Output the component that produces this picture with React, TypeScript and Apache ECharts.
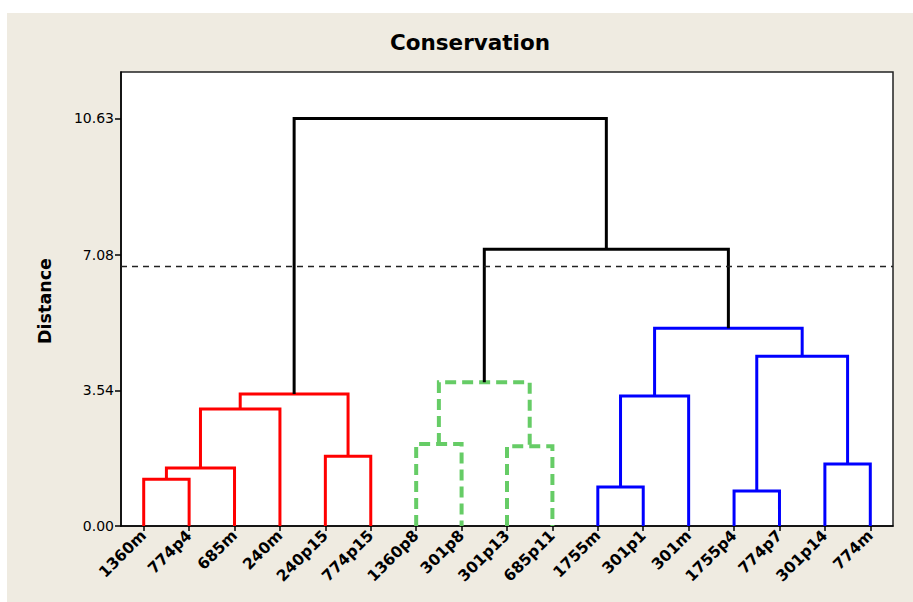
import React, { useEffect, useRef } from "react";
import * as echarts from "echarts";

const leaves = [
  "1360m", "774p4", "685m", "240m", "240p15", "774p15",
  "1360p8", "301p8", "301p13", "685p11",
  "1755m", "301p1", "301m", "1755p4", "774p7", "301p14", "774m",
];

// merges: node ids 0..16 are leaves, merge i gets id 17+i
const mergeLeft = [0, 17, 18, 4, 19, 6, 8, 22, 10, 25, 13, 15, 27, 26, 24, 21];
const mergeRight = [1, 2, 3, 5, 20, 7, 9, 23, 11, 12, 14, 16, 28, 29, 30, 31];
const mergeHeight = [1.22, 1.51, 3.05, 1.82, 3.44, 2.14, 2.08, 3.75, 1.02, 3.39, 0.91, 1.62, 4.43, 5.16, 7.22, 10.63];
const mergeGroup = ["red", "red", "red", "red", "red", "green", "green", "green", "blue", "blue", "blue", "blue", "blue", "blue", "black", "black"];

const yTicks = [0, 3.54, 7.08, 10.63];
const cutHeight = 6.77;
const yMax = 11.84;

const groupColor: Record<string, string> = {
  red: "#ff0000",
  green: "#66cc66",
  blue: "#0000ff",
  black: "#000000",
};

export default function App() {
  const ref = useRef<HTMLDivElement>(null);
  useEffect(() => {
    if (!ref.current) return;
    const chart = echarts.init(ref.current, null, { renderer: "svg" });
    const n = leaves.length;
    const nodeX: number[] = leaves.map((_, i) => i);
    const nodeY: number[] = leaves.map(() => 0);
    const series: any[] = [];
    mergeLeft.forEach((l, i) => {
      const r = mergeRight[i];
      const h = mergeHeight[i];
      const g = mergeGroup[i];
      const x = (nodeX[l] + nodeX[r]) / 2;
      nodeX.push(x);
      nodeY.push(h);
      const isGreen = g === "green";
      series.push({
        type: "line",
        xAxisIndex: 1,
        yAxisIndex: 0,
        symbol: "none",
        silent: true,
        data: [
          [nodeX[l], nodeY[l]],
          [nodeX[l], h],
          [nodeX[r], h],
          [nodeX[r], nodeY[r]],
        ],
        lineStyle: {
          color: groupColor[g],
          width: isGreen ? 4 : 3,
          type: isGreen ? [11, 6] : "solid",
          cap: "butt",
          join: "miter",
        },
        z: g === "black" ? 3 : 2,
      });
    });
    series.push({
      type: "line",
      xAxisIndex: 1,
      yAxisIndex: 0,
      symbol: "none",
      silent: true,
      data: [
        [-0.5, cutHeight],
        [n - 0.5, cutHeight],
      ],
      lineStyle: { color: "#222", width: 1.5, type: [6, 5] },
      z: 4,
    });

    chart.setOption({
      animation: false,
      grid: {
        left: 121,
        right: 20,
        top: 72,
        bottom: 76,
        show: true,
        backgroundColor: "#ffffff",
        borderColor: "#222",
        borderWidth: 1.5,
      },
      graphic: [
        {
          type: "text",
          x: 470,
          y: 42,
          style: {
            text: "Conservation",
            textAlign: "center",
            textVerticalAlign: "middle",
            font: "bold 21.5px 'DejaVu Sans'",
            fill: "#000",
          },
        },
        {
          type: "text",
          x: 45,
          y: 301,
          rotation: Math.PI / 2,
          style: {
            text: "Distance",
            textAlign: "center",
            textVerticalAlign: "middle",
            font: "bold 17.5px 'DejaVu Sans'",
            fill: "#000",
          },
        },
      ],
      xAxis: [
        {
          type: "category",
          data: leaves,
          position: "bottom",
          boundaryGap: true,
          axisLine: { show: true, lineStyle: { color: "#000", width: 1.5 } },
          axisTick: { show: true, alignWithLabel: true, length: 5, lineStyle: { color: "#000", width: 1.5 } },
          axisLabel: {
            interval: 0,
            rotate: 45,
            margin: 7,
            color: "#000",
            fontWeight: "bold",
            fontSize: 15.5,
            fontFamily: "DejaVu Sans",
          },
          splitLine: { show: false },
        },
        {
          type: "value",
          min: -0.5,
          max: n - 0.5,
          show: false,
          splitLine: { show: false },
        },
      ],
      yAxis: {
        type: "value",
        min: 0,
        max: yMax,
        axisLine: { show: true, onZero: false, lineStyle: { color: "#000", width: 1.5 } },
        axisTick: { show: true, length: 6, customValues: yTicks, lineStyle: { color: "#000", width: 1.5 } },
        axisLabel: {
          customValues: yTicks,
          formatter: (v: number) => v.toFixed(2),
          color: "#000",
          fontSize: 14,
          fontFamily: "DejaVu Sans",
          margin: 7,
        },
        splitLine: { show: false },
      },
      series,
    });
    return () => chart.dispose();
  }, []);

  return (
    <div style={{ position: "absolute", left: 0, top: 0, width: 913, height: 602, background: "#ffffff" }}>
      <div style={{ position: "absolute", left: 7, top: 13, right: 0, bottom: 0, background: "#efebe1" }} />
      <div ref={ref} style={{ position: "absolute", left: 0, top: 0, width: 913, height: 602 }} />
    </div>
  );
}
